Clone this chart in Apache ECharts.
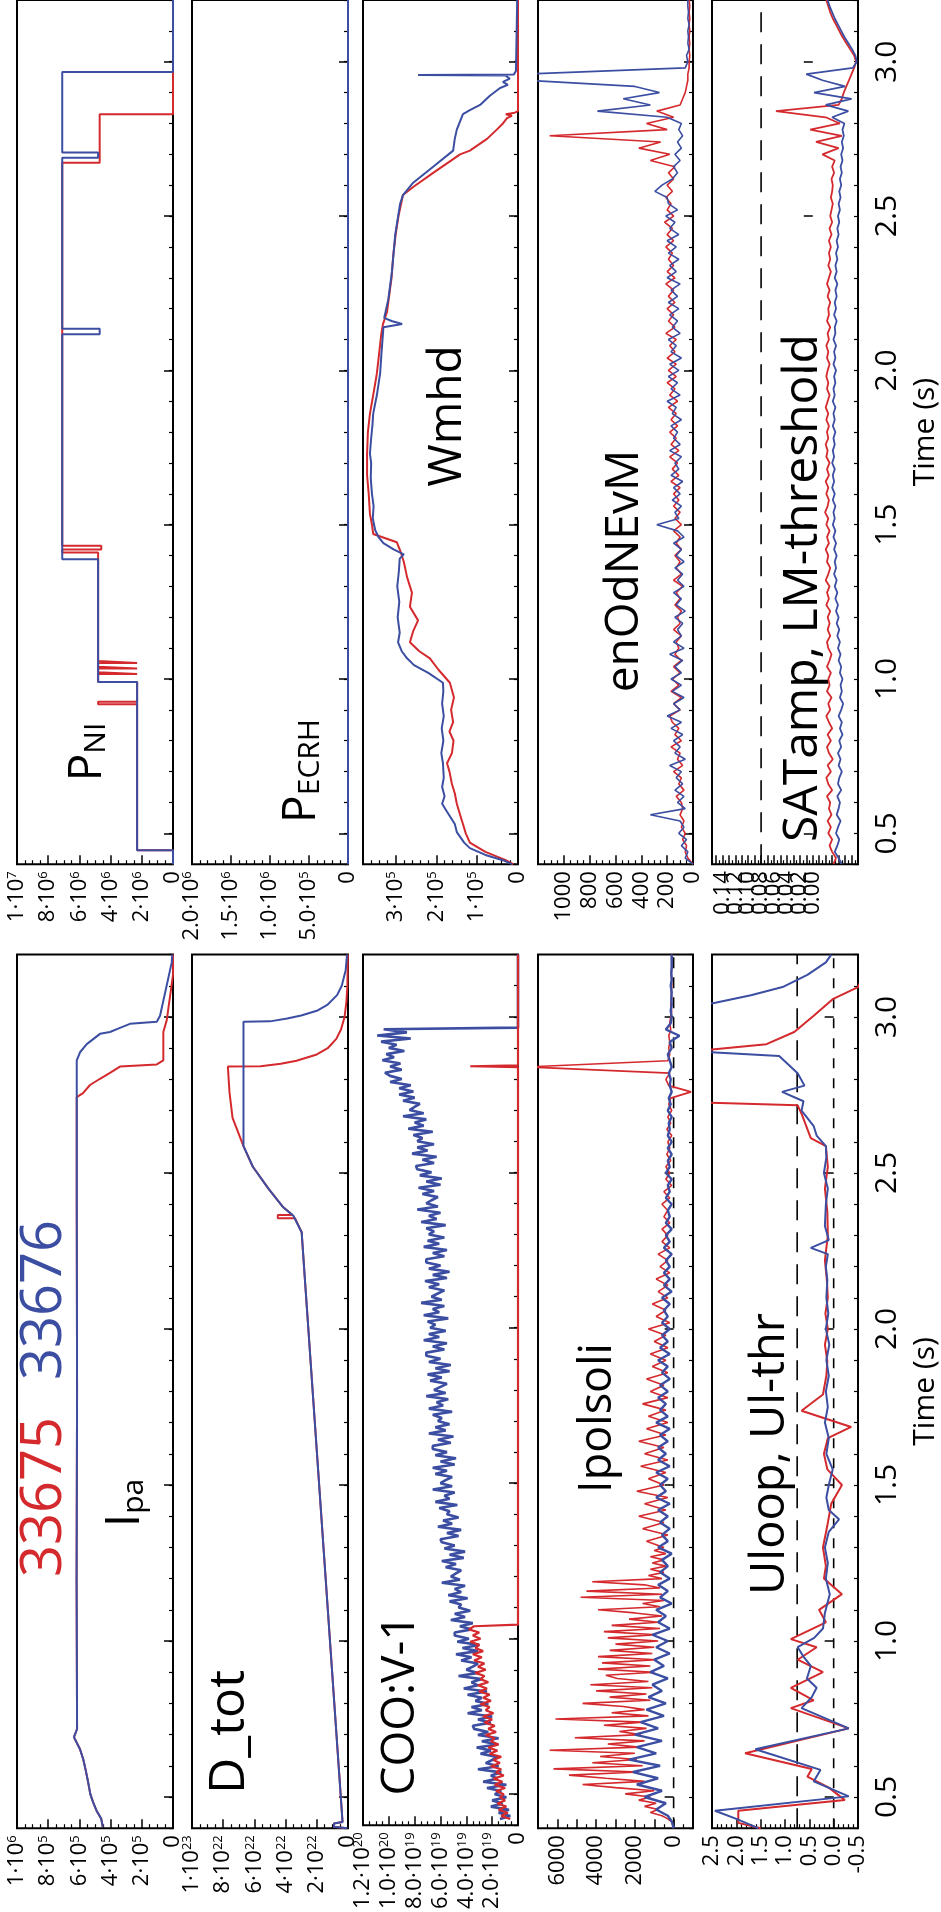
<!DOCTYPE html>
<html>
<head>
<meta charset="utf-8">
<script src="https://cdn.jsdelivr.net/npm/echarts@6/dist/echarts.min.js"></script>
<style>
html, body { margin: 0; padding: 0; background: #fff; }
#chart { width: 941px; height: 1912px; }
</style>
</head>
<body>
<div id="chart"></div>
<script>
// ---- Shot numbers and time base ----
const shotRed = '33675';
const shotBlue = '33676';
const tMin = 0.4, tMax = 3.2;
const timeTicks = [0.5, 1.0, 1.5, 2.0, 2.5, 3.0];

// ---- P_NI (MW): [time s, power] step traces ----
const pniRed = [[0.40,0],[0.445,0],[0.445,2.3],[0.918,2.3],[0.918,4.8],[0.926,4.8],[0.926,2.3],[0.99,2.3],[0.99,4.8],[1.016,4.8],[1.016,2.3],[1.022,2.3],[1.022,4.8],[1.034,4.8],[1.034,2.3],[1.04,2.3],[1.04,4.8],[1.052,4.8],[1.052,2.3],[1.058,2.3],[1.058,4.8],[1.41,4.8],[1.41,7.1],[1.42,7.1],[1.42,4.6],[1.432,4.6],[1.432,7.1],[2.673,7.1],[2.673,4.7],[2.83,4.7],[2.83,0],[3.2,0]];
const pniBlue = [[0.40,0],[0.445,0],[0.445,2.3],[0.99,2.3],[0.99,4.8],[1.388,4.8],[1.388,7.1],[2.117,7.1],[2.117,4.7],[2.135,4.7],[2.135,7.1],[2.689,7.1],[2.689,4.8],[2.706,4.8],[2.706,7.1],[2.967,7.1],[2.967,0],[3.2,0]];

// ---- P_ECRH (MW) ----
const pecrhRed = [[0.40,0],[3.2,0]];
const pecrhBlue = [[0.40,0],[3.2,0]];

// ---- Wmhd (1e5 J) ----
const wmhdBlue = [[0.40,0.15],[0.413,0.37],[0.43,0.8],[0.452,1.18],[0.47,1.32],[0.504,1.50],[0.53,1.55],[0.57,1.74],[0.596,1.86],[0.62,1.80],[0.65,1.86],[0.68,1.82],[0.727,1.84],[0.76,1.88],[0.80,1.83],[0.84,1.87],[0.88,1.82],[0.92,1.86],[0.96,1.83],[0.988,1.84],[1.02,2.2],[1.045,2.55],[1.067,2.72],[1.09,2.85],[1.119,2.94],[1.15,2.90],[1.2,2.95],[1.25,2.91],[1.3,2.96],[1.35,2.92],[1.39,2.90],[1.404,2.80],[1.42,3.05],[1.44,3.30],[1.46,3.42],[1.482,3.50],[1.52,3.56],[1.56,3.54],[1.60,3.58],[1.65,3.61],[1.70,3.60],[1.73,3.63],[1.78,3.60],[1.82,3.57],[1.86,3.55],[1.92,3.46],[1.99,3.38],[2.05,3.35],[2.12,3.31],[2.14,3.30],[2.15,2.84],[2.16,3.10],[2.17,3.28],[2.23,3.18],[2.32,3.09],[2.44,3.01],[2.54,2.89],[2.568,2.82],[2.608,2.57],[2.66,2.08],[2.712,1.59],[2.75,1.55],[2.78,1.50],[2.83,1.35],[2.843,1.18],[2.86,0.93],[2.89,0.69],[2.915,0.44],[2.925,0.25],[2.935,0.37],[2.945,0.20],[2.955,0.30],[2.957,2.45],[2.959,0.10],[2.97,0.05],[3.2,0.02]];
const wmhdRed = [[0.40,0.12],[0.413,0.30],[0.44,0.8],[0.47,1.18],[0.50,1.28],[0.53,1.35],[0.56,1.42],[0.596,1.50],[0.63,1.55],[0.66,1.62],[0.70,1.68],[0.727,1.74],[0.76,1.62],[0.80,1.58],[0.83,1.68],[0.86,1.59],[0.90,1.64],[0.94,1.57],[0.988,1.67],[1.03,1.95],[1.067,2.16],[1.09,2.42],[1.119,2.65],[1.155,2.57],[1.19,2.45],[1.234,2.65],[1.28,2.60],[1.33,2.72],[1.38,2.80],[1.417,2.89],[1.443,2.97],[1.47,3.55],[1.50,3.58],[1.535,3.63],[1.60,3.66],[1.66,3.70],[1.73,3.70],[1.80,3.68],[1.86,3.63],[1.92,3.55],[1.99,3.46],[2.06,3.40],[2.12,3.35],[2.15,3.31],[2.19,3.21],[2.25,3.15],[2.30,3.10],[2.37,3.06],[2.44,3.00],[2.50,2.93],[2.568,2.82],[2.594,2.57],[2.64,2.08],[2.70,1.42],[2.712,1.18],[2.75,0.76],[2.78,0.52],[2.80,0.37],[2.817,0.27],[2.825,0.15],[2.83,0.30],[2.835,0.08],[2.84,0.0],[3.2,0.0]];

// ---- enOdNEvM: sampled every 0.02 s from 0.40 s ----
const enT0 = 0.40, enDt = 0.02;
const enBlue = [
  0, 60, 40, 90, 50, 110, 70, 100, 330, 60,
  120, 70, 140, 80, 130, 90, 180, 60, 140, 100,
  150, 80, 170, 90, 200, 100, 150, 70, 160, 90,
  170, 90, 140, 80, 180, 70, 150, 90, 120, 80,
  140, 60, 130, 90, 150, 70, 120, 80, 140, 70,
  130, 90, 150, 70, 120, 280, 110, 140, 90, 160,
  100, 150, 80, 170, 110, 140, 90, 180, 100, 150,
  120, 170, 90, 160, 130, 200, 100, 170, 120, 190,
  110, 180, 90, 170, 130, 190, 100, 160, 120, 180,
  110, 190, 120, 170, 100, 200, 130, 180, 110, 190,
  130, 200, 110, 180, 140, 210, 120, 190, 200, 295,
  240, 160, 120, 150, 100, 140, 90, 120, 80, 110,
  90, 200, 740, 330, 540, 260, 450, 1300, 1300, 60,
  40, 50, 30, 40, 35, 40, 30, 40, 35, 40,
  40];
const enRed = [
  0, 40, 60, 50, 80, 60, 90, 70, 100, 80,
  90, 130, 70, 110, 90, 150, 80, 120, 100, 170,
  90, 140, 110, 160, 180, 100, 150, 90, 170, 110,
  160, 100, 150, 90, 140, 110, 130, 90, 150, 100,
  120, 90, 140, 100, 130, 80, 150, 90, 130, 100,
  140, 90, 130, 100, 150, 90, 140, 100, 150, 110,
  150, 100, 170, 110, 160, 120, 180, 110, 170, 130,
  180, 120, 170, 130, 190, 120, 180, 140, 200, 130,
  190, 130, 200, 140, 180, 130, 210, 140, 190, 150,
  200, 140, 190, 150, 210, 140, 200, 150, 190, 160,
  210, 150, 200, 160, 220, 150, 200, 170, 210, 160,
  200, 150, 190, 140, 330, 180, 420, 250, 1110, 200,
  360, 150, 280, 100, 80, 60, 50, 40, 40, 30,
  30, 25, 30, 25, 30, 25, 30, 25, 30, 25,
  30];

// ---- SATamp: sampled every 0.02 s from 0.40 s; LM threshold ----
const satT0 = 0.40, satDt = 0.02;
const satThreshold = 0.08;
const satRed = [
  -0.032, -0.036, -0.030, -0.026, -0.030, -0.024, -0.028, -0.023, -0.029, -0.025,
  -0.027, -0.022, -0.030, -0.024, -0.021, -0.028, -0.023, -0.031, -0.025, -0.022,
  -0.028, -0.023, -0.030, -0.025, -0.021, -0.027, -0.024, -0.029, -0.022, -0.026,
  -0.024, -0.028, -0.022, -0.026, -0.029, -0.024, -0.022, -0.027, -0.023, -0.026,
  -0.023, -0.027, -0.021, -0.025, -0.022, -0.026, -0.020, -0.024, -0.027, -0.022,
  -0.024, -0.020, -0.025, -0.022, -0.026, -0.021, -0.024, -0.019, -0.023, -0.025,
  -0.021, -0.024, -0.020, -0.025, -0.022, -0.026, -0.021, -0.023, -0.020, -0.024,
  -0.022, -0.025, -0.021, -0.024, -0.020, -0.023, -0.026, -0.022, -0.024, -0.021,
  -0.023, -0.026, -0.022, -0.024, -0.021, -0.025, -0.023, -0.027, -0.022, -0.025,
  -0.024, -0.027, -0.023, -0.026, -0.022, -0.025, -0.028, -0.024, -0.027, -0.025,
  -0.028, -0.025, -0.029, -0.026, -0.030, -0.027, -0.029, -0.031, -0.028, -0.030,
  -0.031, -0.029, -0.033, -0.030, -0.034, -0.015, -0.040, -0.005, -0.045, 0.004,
  -0.042, -0.020, 0.057, -0.040, -0.045, -0.048, -0.052, -0.056, -0.060, -0.064,
  -0.067, -0.064, -0.058, -0.052, -0.046, -0.041, -0.036, -0.031, -0.027, -0.024,
  -0.021];
const satBlue = [
  -0.045, -0.040, -0.034, -0.038, -0.041, -0.036, -0.039, -0.043, -0.037, -0.040,
  -0.042, -0.038, -0.044, -0.039, -0.041, -0.045, -0.040, -0.043, -0.039, -0.044,
  -0.041, -0.046, -0.042, -0.045, -0.040, -0.044, -0.047, -0.042, -0.045, -0.043,
  -0.046, -0.042, -0.044, -0.040, -0.043, -0.039, -0.042, -0.038, -0.041, -0.037,
  -0.040, -0.036, -0.039, -0.035, -0.038, -0.034, -0.037, -0.033, -0.036, -0.034,
  -0.037, -0.033, -0.036, -0.032, -0.035, -0.031, -0.034, -0.032, -0.035, -0.031,
  -0.034, -0.030, -0.033, -0.031, -0.034, -0.030, -0.033, -0.031, -0.034, -0.032,
  -0.035, -0.031, -0.034, -0.032, -0.035, -0.031, -0.034, -0.032, -0.035, -0.033,
  -0.036, -0.032, -0.035, -0.033, -0.036, -0.032, -0.035, -0.034, -0.037, -0.033,
  -0.036, -0.034, -0.037, -0.035, -0.038, -0.034, -0.037, -0.035, -0.038, -0.036,
  -0.039, -0.037, -0.040, -0.038, -0.041, -0.039, -0.042, -0.040, -0.043, -0.041,
  -0.044, -0.042, -0.045, -0.043, -0.046, -0.044, -0.047, -0.045, -0.048, -0.046,
  -0.049, -0.030, -0.055, -0.020, -0.060, -0.002, -0.050, -0.015, 0.010, -0.062,
  -0.068, -0.066, -0.061, -0.055, -0.049, -0.044, -0.039, -0.034, -0.030, -0.026,
  -0.023];

// ---- I_pa (1e5 A) ----
const ipaRed = [[0.404,4.5],[0.43,4.6],[0.456,4.9],[0.48,5.1],[0.509,5.3],[0.55,5.45],[0.587,5.6],[0.62,5.75],[0.653,5.96],[0.692,6.35],[0.718,6.15],[1.2,6.18],[1.8,6.15],[2.4,6.17],[2.743,6.17],[2.756,5.77],[2.782,5.32],[2.802,4.68],[2.821,4.04],[2.841,3.40],[2.848,1.04],[2.861,0.62],[2.952,0.62],[2.99,0.40],[3.135,0.0],[3.2,0.0]];
const ipaBlue = [[0.404,4.5],[0.43,4.6],[0.456,4.9],[0.48,5.1],[0.509,5.3],[0.55,5.45],[0.587,5.6],[0.62,5.75],[0.653,5.96],[0.692,6.35],[0.718,6.15],[1.2,6.18],[1.8,6.15],[2.4,6.17],[2.861,6.17],[2.887,5.96],[2.913,5.53],[2.946,4.68],[2.952,4.04],[2.965,3.40],[2.978,2.76],[2.985,1.04],[3.004,0.83],[3.175,0.08],[3.2,0.05]];

// ---- D_tot (1e22) ----
const dtotRed = [[0.40,0.05],[0.405,0.9],[0.415,0.9],[0.42,0.35],[2.157,2.76],[2.31,2.97],[2.355,3.4],[2.355,4.5],[2.365,4.5],[2.365,3.55],[2.39,4.15],[2.45,5.1],[2.52,6.1],[2.586,6.7],[2.677,7.4],[2.76,7.6],[2.841,7.7],[2.842,5.6],[2.85,4.3],[2.86,3.3],[2.88,2.0],[2.90,1.3],[2.93,0.75],[2.96,0.45],[3.0,0.22],[3.05,0.10],[3.1,0.04],[3.2,0.01]];
const dtotBlue = [[0.40,0.05],[0.405,0.9],[0.415,0.9],[0.42,0.35],[2.157,2.76],[2.31,2.97],[2.363,3.5],[2.39,4.15],[2.45,5.1],[2.52,6.1],[2.586,6.7],[2.985,6.7],[2.986,5.0],[2.995,3.9],[3.005,3.0],[3.02,2.0],[3.04,1.3],[3.07,0.7],[3.1,0.4],[3.15,0.15],[3.2,0.06]];

// ---- COO:V-1 (1e19), sampled every 0.01 s from 0.42 s ----
const cooT0 = 0.42, cooDt = 0.01;
const cooBlue = [
  1.4, 0.6, 1.5, 0.7, 2.1, 1.2, 2.0, 0.9, 1.8, 1.3,
  2.4, 0.9, 2.7, 1.6, 2.1, 1.3, 3.1, 1.5, 2.5, 2.0,
  1.6, 2.9, 2.1, 3.2, 1.6, 2.8, 1.5, 3.1, 2.3, 3.4,
  3.5, 2.1, 3.1, 2.0, 3.9, 2.8, 3.6, 2.3, 3.3, 2.8,
  3.9, 2.4, 4.2, 3.1, 3.6, 2.8, 4.6, 3.1, 4.0, 3.5,
  3.1, 4.4, 3.6, 4.8, 3.1, 4.3, 3.0, 4.7, 3.8, 4.9,
  4.9, 3.6, 4.5, 3.5, 5.2, 4.1, 4.9, 3.7, 4.6, 4.4,
  5.3, 3.9, 5.4, 4.4, 4.9, 4.1, 5.9, 4.5, 5.2, 4.8,
  4.4, 5.6, 4.8, 5.9, 4.2, 5.3, 4.1, 5.7, 4.9, 5.9,
  6.0, 4.6, 5.5, 4.4, 6.2, 5.1, 5.8, 4.6, 5.5, 5.3,
  6.1, 4.7, 6.4, 5.3, 5.7, 4.9, 6.6, 5.1, 6.0, 5.6,
  5.1, 6.4, 5.5, 6.6, 4.9, 6.0, 4.8, 6.4, 5.5, 6.6,
  6.6, 5.2, 6.2, 5.0, 6.9, 5.6, 6.4, 5.3, 6.2, 5.9,
  6.6, 5.1, 6.9, 5.8, 6.3, 5.4, 7.1, 5.6, 6.5, 6.0,
  5.5, 6.8, 5.9, 7.0, 5.3, 6.4, 5.2, 6.9, 6.0, 7.1,
  7.1, 5.7, 6.6, 5.5, 7.3, 6.1, 6.9, 5.6, 6.8, 6.4,
  7.0, 5.4, 7.3, 6.1, 6.6, 5.7, 7.5, 5.9, 6.7, 6.2,
  5.7, 6.9, 6.1, 7.2, 5.5, 6.6, 5.3, 6.9, 6.0, 7.1,
  7.1, 5.7, 6.6, 5.5, 7.3, 6.1, 7.0, 5.7, 6.9, 6.5,
  7.1, 5.6, 7.5, 6.3, 6.9, 6.0, 7.8, 6.2, 7.1, 6.7,
  6.2, 7.4, 6.5, 7.7, 6.0, 7.1, 5.9, 7.6, 6.7, 7.8,
  7.9, 6.5, 7.4, 6.3, 8.2, 7.0, 7.8, 6.5, 7.8, 7.4,
  8.1, 6.6, 8.5, 7.3, 8.0, 7.1, 8.9, 7.3, 8.4, 8.0,
  7.6, 8.9, 8.0, 9.2, 8.1, 9.2, 8.3, 9.9, 9.0, 9.9,
  10.3, 9.0, 9.9, 9.1, 10.5, 9.6, 10.2, 8.8, 10.0, 9.4,
  10.6, 8.3, 10.9, 8.6, 10.4];
const cooBlueTail = [[2.965,0],[3.2,0]];
const cooRed = [
  0.6, 1.3, 0.8, 1.5, 0.9, 1.6, 1.0, 1.4, 1.1, 1.7,
  1.0, 1.8, 1.2, 1.9, 1.1, 1.7, 1.3, 2.1, 1.4, 1.9,
  1.3, 2.2, 1.6, 2.3, 1.5, 2.1, 1.8, 2.5, 1.7, 2.3,
  1.8, 2.6, 2.0, 2.7, 1.9, 2.5, 2.2, 2.9, 2.1, 2.7,
  2.2, 3.0, 2.4, 3.1, 2.3, 2.9, 2.6, 3.3, 2.5, 3.1,
  2.6, 3.4, 2.8, 3.5, 2.7, 3.3, 3.0, 3.7, 2.9, 3.5,
  3.0, 3.8, 3.4];
const cooRedTail = [[1.045,0],[2.838,0],[2.841,3.7],[2.844,0],[3.2,0]];

// ---- Ipolsoli ----
const ipolT0 = 0.40, ipolDt = 0.02;
const ipolBlue = [
  0, 80, 300, 900, 400, 1500, 600, 1900, 800, 2100,
  700, 2300, 900, 1900, 600, 2000, 800, 1700, 500, 1400,
  400, 1300, 600, 1100, 300, 1200, 500, 1000, 200, 900,
  300, 1100, 200, 800, 400, 900, 100, 700, 300, 800,
  200, 700, 300, 600, 100, 800, 300, 600, 200, 700,
  300, 800, 200, 900, 400, 700, 300, 900, 200, 800,
  400, 800, 300, 700, 200, 900, 300, 700, 400, 800,
  300, 700, 200, 600, 300, 800, 200, 700, 300, 600,
  200, 600, 300, 500, 200, 600, 100, 500, 200, 500,
  200, 400, 100, 500, 200, 400, 100, 400, 200, 300,
  100, 400, 200, 300, 100, 400, 200, 300, 100, 300,
  100, 300, 200, 250, 100, 300, 150, 250, 100, 200,
  150, 250, 100, 200, 300, 100, 200, -300, 400, 150,
  100, 150, 100, 120, 100, 150, 100, 120, 100, 100,
  100];
const ipolRedA_T0 = 0.40, ipolRedA_Dt = 0.01;
const ipolRedA = [
  0, 50, 100, 300, 600, 1200, 800, 1500, 900, 1800,
  1200, 2500, 1000, 3000, 4700, 1500, 3500, 5400, 1800, 6200,
  1600, 4200, 1900, 3800, 2000, 6400, 1800, 3400, 1500, 5100,
  1700, 2800, 1400, 3600, 1600, 6100, 1300, 3200, 1500, 2600,
  4700, 1200, 3300, 1400, 4000, 1100, 4300, 1300, 2900, 3500,
  1000, 3900, 1200, 3700, 900, 3900, 1100, 3300, 1000, 3000,
  800, 3400, 900, 3600, 700, 3200, 800, 2300, 600, 2000,
  3900, 700, 1600, 500, 4800, 600, 4500, 700, 1500, 4200,
  600, 1300, 500, 1200, 400, 1100, 500, 1200, 400, 1000,
  500];
const ipolRedB_T0 = 1.32, ipolRedB_Dt = 0.02;
const ipolRedB = [
  1400, 300, 1600, 500, 1800, 400, 1500, 300, 1900, 500,
  1300, 400, 1700, 300, 1500, 500, 1800, 400, 1400, 300,
  1300, 400, 1600, 300, 1200, 500, 1400, 300, 1100, 400,
  1200, 300, 1000, 400, 1300, 200, 900, 400, 1100, 300,
  800, 300, 900, 200, 700, 300, 800, 200, 600, 300,
  600, 200, 500, 300, 600, 200, 500, 100, 400, 200,
  400, 150, 350, 200, 300, 100, 350, 150, 300, 100,
  250, 150, -900, 250, 400, 200, 7600, 300, 200, 250,
  200, 250, 150, 200, 150, 100, 150, 100, 120, 100,
  100, 120, 100, 100, 100];
const ipolZero = 0;

// ---- Uloop (V) and thresholds ----
const uloopBlue = [[0.40,1.55],[0.43,2.0],[0.456,2.44],[0.502,-0.31],[0.55,0.41],[0.587,0.27],[0.653,1.61],[0.72,-0.31],[0.785,0.66],[0.82,0.45],[0.85,0.35],[0.88,0.55],[0.92,0.47],[0.95,0.62],[0.98,0.74],[1.01,0.40],[1.04,0.22],[1.09,0.18],[1.15,0.08],[1.2,0.16],[1.25,0.12],[1.3,0.18],[1.35,0.10],[1.39,-0.11],[1.42,0.10],[1.46,0.15],[1.50,0.10],[1.55,0.02],[1.6,0.15],[1.65,0.10],[1.7,0.18],[1.75,0.12],[1.8,0.16],[1.85,0.10],[1.9,0.15],[1.95,0.09],[2.0,0.16],[2.05,0.11],[2.1,0.15],[2.157,0.13],[2.2,0.16],[2.24,0.12],[2.26,0.47],[2.285,0.10],[2.33,0.18],[2.4,0.16],[2.45,0.12],[2.5,0.20],[2.55,0.15],[2.586,0.16],[2.62,0.35],[2.65,0.41],[2.70,0.66],[2.73,0.62],[2.76,1.06],[2.78,0.60],[2.82,0.74],[2.875,1.12],[2.895,3.5],[3.04,3.5],[3.044,2.48],[3.07,1.70],[3.096,1.05],[3.135,0.54],[3.175,0.16],[3.2,0.05]];
const uloopRed = [[0.40,1.5],[0.417,1.96],[0.456,1.96],[0.49,-0.23],[0.53,0.10],[0.565,0.54],[0.59,0.45],[0.64,1.82],[0.72,-0.31],[0.785,0.88],[0.81,0.41],[0.85,0.88],[0.90,0.22],[0.94,0.74],[0.98,0.35],[1.006,0.88],[1.06,0.16],[1.10,0.30],[1.15,-0.17],[1.2,0.20],[1.24,0.16],[1.3,0.22],[1.37,0.13],[1.44,0.05],[1.50,-0.17],[1.55,0.13],[1.6,0.20],[1.65,0.12],[1.686,-0.36],[1.738,0.66],[1.79,0.22],[1.85,0.15],[1.896,0.13],[1.95,0.18],[2.0,0.12],[2.05,0.17],[2.1,0.12],[2.157,0.14],[2.22,0.18],[2.3,0.12],[2.376,0.13],[2.45,0.18],[2.52,0.12],[2.586,0.16],[2.612,0.47],[2.69,0.66],[2.717,0.74],[2.73,3.5],[2.895,3.5],[2.896,2.5],[2.913,1.38],[2.952,0.81],[3.004,0.41],[3.057,0.02],[3.096,-0.5],[3.2,-0.8]];
const uloopThreshold = 0.75;
const uloopZero = 0;

// ---- helpers that turn the arrays into [value, time] points ----
function pairs(list, unit) {
  return list.map(p => [p[1] * unit, p[0]]);
}
function sampled(t0, dt, vals, unit) {
  return vals.map((v, i) => [v * unit, +(t0 + i * dt).toFixed(4)]);
}
function hline(v) {
  return [[v, tMin], [v, tMax]];
}

const RED = '#d42a2e';
const BLUE = '#3b4ea2';
const FONT = '"Open Sans", "Liberation Sans", sans-serif';

function sci(digits) {
  return function (v) {
    if (Math.abs(v) < 1e-40) return '{m|0}';
    let e = Math.floor(Math.log10(Math.abs(v)) + 1e-9);
    let m = v / Math.pow(10, e);
    if (Math.round(m * 10) / 10 >= 10) { m /= 10; e += 1; }
    return '{m|' + m.toFixed(digits) + '·10}{s|' + e + '}';
  };
}
function plain(v) { return '{m|' + Math.round(v) + '}'; }

const cols = [
  { left: 17, width: 156 }, { left: 192, width: 156 }, { left: 363, width: 155 },
  { left: 538, width: 155 }, { left: 712, width: 156 }
];
const rows = [{ top: -9.4, height: 873.6 }, { top: 954.6, height: 873.6 }];

function line(data, color, width, dash) {
  return { data, color, width: width || 2, dash };
}

const panels = [
  // upper row
  { row: 0, col: 0, min: 0, max: 1e7, interval: 2e6, minor: 4, fmt: sci(0),
    lines: [line(pairs(pniRed, 1e6), RED), line(pairs(pniBlue, 1e6), BLUE)] },
  { row: 0, col: 1, min: 0, max: 2e6, interval: 5e5, minor: 5, fmt: sci(1),
    lines: [line(pairs(pecrhRed, 1e6), RED), line(pairs(pecrhBlue, 1e6), BLUE)] },
  { row: 0, col: 2, min: 0, max: 3.8e5, interval: 1e5, minor: 5, fmt: sci(0), hideMax: true,
    lines: [line(pairs(wmhdRed, 1e5), RED), line(pairs(wmhdBlue, 1e5), BLUE)] },
  { row: 0, col: 3, min: 0, max: 1200, interval: 200, minor: 4, fmt: plain, hideMax: true,
    lines: [line(sampled(enT0, enDt, enRed, 1), RED, 1.6), line(sampled(enT0, enDt, enBlue, 1), BLUE, 1.6)] },
  { row: 0, col: 4, min: -0.07, max: 0.156, interval: 0.01, minor: 2, hideMax: true,
    fmt: v => (v > -0.001 && Math.round(v * 100) % 2 === 0) ? '{m|' + v.toFixed(2) + '}' : '',
    lines: [line(hline(satThreshold), '#000', 1.6, [20, 12]),
            line(sampled(satT0, satDt, satRed, 1), RED, 1.8), line(sampled(satT0, satDt, satBlue, 1), BLUE, 1.8)] },
  // lower row
  { row: 1, col: 0, min: 0, max: 1e6, interval: 2e5, minor: 4, fmt: sci(0),
    lines: [line(pairs(ipaRed, 1e5), RED), line(pairs(ipaBlue, 1e5), BLUE)] },
  { row: 1, col: 1, min: 0, max: 1e23, interval: 2e22, minor: 4, fmt: sci(0),
    lines: [line(pairs(dtotRed, 1e22), RED), line(pairs(dtotBlue, 1e22), BLUE)] },
  { row: 1, col: 2, min: 0, max: 1.2e20, interval: 2e19, minor: 4, fmt: sci(1),
    lines: [line(sampled(cooT0, cooDt, cooBlue, 1e19).concat(pairs(cooBlueTail, 1e19)), BLUE, 2.6),
            line(sampled(cooT0, cooDt, cooRed, 1e19).concat(pairs(cooRedTail, 1e19)), RED, 2.2)] },
  { row: 1, col: 3, min: -1000, max: 7000, interval: 1000, minor: 2,
    fmt: v => (v >= 0 && Math.round(v) % 2000 === 0) ? '{m|' + Math.round(v) + '}' : '',
    lines: [line(hline(ipolZero), '#000', 1.6, [11, 9]),
            line(sampled(ipolRedA_T0, ipolRedA_Dt, ipolRedA, 1).concat(sampled(ipolRedB_T0, ipolRedB_Dt, ipolRedB, 1)), RED, 1.6),
            line(sampled(ipolT0, ipolDt, ipolBlue, 1), BLUE, 2.4)] },
  { row: 1, col: 4, min: -0.5, max: 2.5, interval: 0.5, minor: 5,
    fmt: v => '{m|' + v.toFixed(1) + '}',
    lines: [line(hline(uloopThreshold), '#000', 1.6, [20, 12]), line(hline(uloopZero), '#000', 1.6, [10, 10]),
            line(pairs(uloopRed, 1), RED), line(pairs(uloopBlue, 1), BLUE)] }
];

const grid = [], xAxis = [], yAxis = [], series = [];
panels.forEach((p, i) => {
  const c = cols[p.col], r = rows[p.row];
  grid.push({ left: c.left, width: c.width, top: r.top, height: r.height,
    show: true, borderColor: '#000', borderWidth: 2, backgroundColor: 'transparent' });
  xAxis.push({
    type: 'value', gridIndex: i, min: p.min, max: p.max, interval: p.interval,
    inverse: true, position: 'bottom',
    axisLine: { show: false },
    axisTick: { show: true, inside: true, length: 9, lineStyle: { color: '#000', width: 1.5 } },
    minorTick: { show: true, splitNumber: p.minor, length: 4, lineStyle: { color: '#000', width: 1.2 } },
    splitLine: { show: false }, minorSplitLine: { show: false },
    axisLabel: {
      rotate: 90, margin: 7, color: '#000', fontFamily: FONT, fontSize: 22,
      showMaxLabel: !p.hideMax, showMinLabel: true,
      formatter: p.fmt,
      rich: { m: { fontSize: 22, fontFamily: FONT, color: '#000' },
              s: { fontSize: 13, fontFamily: FONT, color: '#000', verticalAlign: 'top' } }
    }
  });
  const showTime = p.col === 4;
  yAxis.push({
    type: 'value', gridIndex: i, min: tMin, max: tMax, position: 'right',
    axisLine: { show: false },
    axisTick: { show: true, inside: true, length: 9, customValues: timeTicks, lineStyle: { color: '#000', width: 1.5 } },
    axisLabel: { show: showTime, customValues: timeTicks, rotate: 90, margin: 14, color: '#000',
      fontFamily: FONT, fontSize: 30, formatter: v => v.toFixed(1) },
    splitLine: { show: false },
    name: showTime ? 'Time (s)' : '', nameLocation: 'middle', nameRotate: 90, nameGap: 52,
    nameTextStyle: { fontSize: 30, fontFamily: FONT, color: '#000' }
  });
  yAxis.push({
    type: 'value', gridIndex: i, min: tMin, max: tMax, interval: 0.1, position: 'right',
    axisLine: { show: false },
    axisTick: { show: true, inside: true, length: 4, lineStyle: { color: '#000', width: 1.2 } },
    axisLabel: { show: false }, splitLine: { show: false }
  });
  p.lines.forEach(l => {
    series.push({
      type: 'line', xAxisIndex: i, yAxisIndex: 2 * i, data: l.data,
      showSymbol: false, symbol: 'none', silent: true, clip: true,
      lineStyle: { color: l.color, width: l.width, type: l.dash || 'solid' },
      itemStyle: { color: l.color }
    });
  });
});

function label(text, x, y, size, color, rich) {
  const el = { type: 'text', x, y, rotation: Math.PI / 2, silent: true,
    style: { text, fontSize: size, fontFamily: FONT, fill: color || '#000', align: 'center', verticalAlign: 'middle' } };
  if (rich) el.style.rich = rich;
  return el;
}
const subRich = (big, small) => ({
  m: { fontSize: big, fontFamily: FONT, fill: '#000' },
  s: { fontSize: small, fontFamily: FONT, fill: '#000', verticalAlign: 'bottom' }
});

const graphic = [
  label(shotRed, 45, 1497, 56, RED),
  label(shotBlue, 45, 1300, 56, BLUE),
  label('{m|I}{s|pa}', 125, 1503, 48, '#000', subRich(48, 30)),
  label('D_tot', 230, 1732, 50),
  label('COO:V-1', 401, 1705, 46),
  label('Ipolsoli', 598, 1418, 45),
  label('Uloop, Ul-thr', 771, 1454, 47),
  label('{m|P}{s|NI}', 88, 752, 46, '#000', subRich(46, 30)),
  label('{m|P}{s|ECRH}', 302, 771, 46, '#000', subRich(46, 30)),
  label('Wmhd', 448, 416, 46),
  label('enOdNEvM', 625, 571, 46),
  label('SATamp, LM-threshold', 803, 588, 48)
];

const chart = echarts.init(document.getElementById('chart'), null, { renderer: 'canvas' });
chart.setOption({ animation: false, backgroundColor: '#fff', grid, xAxis, yAxis, series, graphic });
</script>
</body>
</html>
